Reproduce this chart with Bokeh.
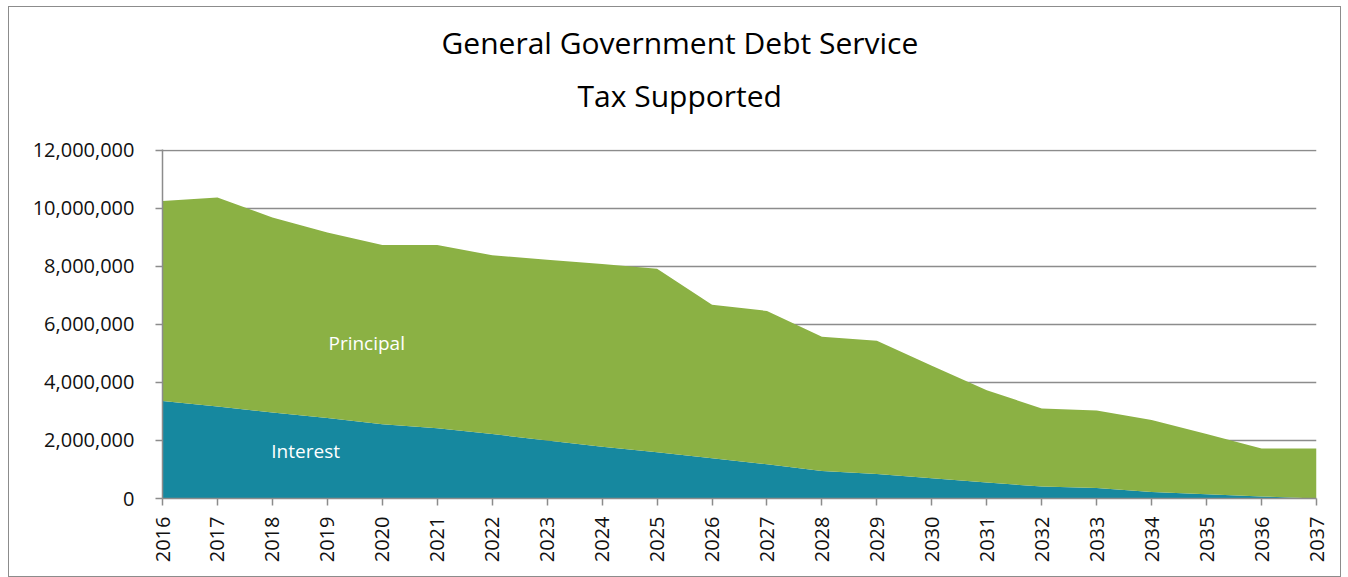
import numpy as np
from bokeh.plotting import figure
from bokeh.models import ColumnDataSource, Range1d, FixedTicker, NumeralTickFormatter, Label, Title
from bokeh.embed import file_html
from bokeh.resources import INLINE

years = list(range(2016, 2038))
interest = [3.36, 3.17, 2.96, 2.77, 2.56, 2.42, 2.22, 2.00, 1.78, 1.59, 1.39,
            1.18, 0.95, 0.84, 0.70, 0.55, 0.41, 0.36, 0.22, 0.15, 0.07, 0.0]
total = [10.25, 10.37, 9.68, 9.16, 8.73, 8.73, 8.38, 8.22, 8.08, 7.91, 6.67,
         6.46, 5.57, 5.43, 4.57, 3.73, 3.10, 3.03, 2.70, 2.22, 1.72, 1.72]
interest = [v * 1e6 for v in interest]
principal = [t * 1e6 - i for t, i in zip(total, interest)]

series_names = ["Interest", "Principal"]
colors = ["#16889F", "#8BB144"]
y_ticks = [0, 2e6, 4e6, 6e6, 8e6, 10e6, 12e6]
title_lines = ["General Government Debt Service", "Tax Supported"]
FONT = "Open Sans"

src = ColumnDataSource(dict(year=years, Interest=interest, Principal=principal))

p = figure(width=1333, height=571, output_backend="svg", toolbar_location=None,
           x_range=Range1d(2016, 2037), y_range=Range1d(0, 12.02e6),
           min_border_left=153, min_border_right=26, min_border_top=142, min_border_bottom=80,
           background_fill_color="white", border_fill_color="white",
           styles={"border": "1.5px solid #8c8c8c", "margin": "6px 0 0 8px"})
p.outline_line_color = None

p.varea_stack(series_names, x="year", source=src, color=colors)

# titles: stacked outward from the frame (first added = closest)
p.add_layout(Title(text=" ", text_font=FONT, text_font_size="10px", standoff=18), "above")
p.add_layout(Title(text=title_lines[1], align="left", offset=415, text_font=FONT,
                   text_font_size="30px", text_font_style="normal", text_color="#000000",
                   standoff=0), "above")
p.add_layout(Title(text=title_lines[0], align="left", offset=279, text_font=FONT,
                   text_font_size="30px", text_font_style="normal", text_color="#000000",
                   standoff=20), "above")

p.xaxis.ticker = FixedTicker(ticks=years)
p.xaxis.major_label_orientation = np.pi / 2
p.yaxis.ticker = FixedTicker(ticks=y_ticks)
p.yaxis.formatter = NumeralTickFormatter(format="0,0")
for ax in (p.xaxis, p.yaxis):
    ax.axis_line_color = "#8c8c8c"
    ax.axis_line_width = 1.5
    ax.major_tick_line_color = "#8c8c8c"
    ax.major_tick_line_width = 1.5
    ax.major_tick_out = 7
    ax.major_tick_in = 0
    ax.minor_tick_line_color = None
    ax.major_label_text_font = FONT
    ax.major_label_text_font_size = "20px"
    ax.major_label_text_color = "#111111"
p.xaxis.major_label_standoff = 11
p.yaxis.major_label_standoff = 21

p.xgrid.grid_line_color = None
p.ygrid.grid_line_color = "#8c8c8c"
p.ygrid.grid_line_width = 1.5

p.add_layout(Label(x=2019.02, y=5.36e6, text="Principal", text_color="white",
                   text_font=FONT, text_font_size="19px", text_baseline="middle"))
p.add_layout(Label(x=2017.98, y=1.62e6, text="Interest", text_color="white",
                   text_font=FONT, text_font_size="19px", text_baseline="middle"))

open("out.html", "w").write(file_html(p, INLINE))
